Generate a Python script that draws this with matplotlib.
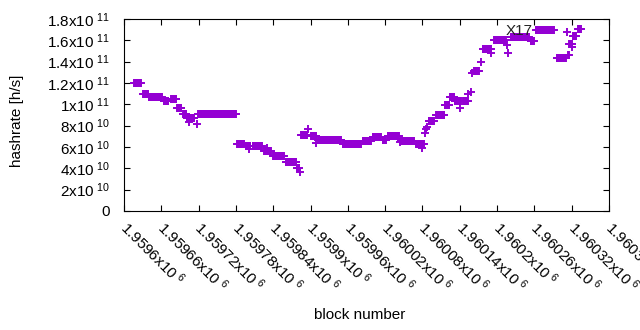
import numpy as np
import matplotlib
matplotlib.use("Agg")
import matplotlib.pyplot as plt
import matplotlib.transforms as mtransforms

plt.rcParams['font.family'] = ['Liberation Sans', 'DejaVu Sans']
plt.rcParams['mathtext.fontset'] = 'custom'
plt.rcParams['mathtext.rm'] = 'Liberation Sans'
plt.rcParams['mathtext.default'] = 'regular'

BASE_BLOCK = 1959600

# hashrate is constant over runs of blocks: first block, last block (offset from BASE_BLOCK), value in 1e10 h/s
run_first = [16, 31, 40, 64, 76, 86, 95, 101, 105, 117, 119, 182, 196, 201, 207, 225, 230, 240, 260,
             278, 283, 285, 296, 301, 309, 312, 352, 384, 400, 416, 424, 444, 445, 470, 479, 484,
             486, 487, 490, 502, 516, 524, 532, 540, 545, 553, 558, 560, 563, 574, 577, 591, 595,
             616, 617, 622, 654, 662, 696, 713, 714, 716, 721, 722, 730]
run_last = [27, 39, 61, 71, 84, 92, 100, 113, 105, 117, 180, 193, 203, 201, 222, 236, 230, 257, 277,
            282, 283, 294, 296, 309, 309, 349, 381, 397, 413, 421, 442, 444, 466, 482, 479, 484,
            486, 487, 498, 515, 523, 531, 542, 540, 553, 553, 558, 560, 571, 574, 590, 591, 614,
            616, 617, 651, 659, 691, 711, 713, 715, 721, 721, 727, 735]
run_value = [12.0, 11.0, 10.7, 10.3, 10.5, 9.7, 9.1, 8.7, 8.3, 8.2, 9.1, 6.3, 6.1, 5.8, 6.1, 5.6, 5.9,
             5.2, 4.6, 4.0, 3.7, 7.1, 7.7, 7.0, 6.4, 6.7, 6.3, 6.6, 6.9, 6.7, 7.05, 6.5, 6.6, 6.3,
             5.9, 7.3, 7.7, 7.9, 8.4, 9.0, 9.9, 10.7, 10.3, 9.7, 10.3, 11.0, 11.2, 12.9, 13.1, 14.0,
             15.2, 14.8, 16.0, 15.6, 14.8, 16.3, 15.9, 17.0, 14.3, 16.8, 14.6, 15.7, 15.4, 16.4, 17.1]

x_ticks = [1959600, 1959660, 1959720, 1959780, 1959840, 1959900, 1959960,
           1960020, 1960080, 1960140, 1960200, 1960260, 1960320, 1960380]
y_ticks = [0, 2e10, 4e10, 6e10, 8e10, 1e11, 1.2e11, 1.4e11, 1.6e11, 1.8e11]

blocks = []
hashrate = []
for a, b, v in zip(run_first, run_last, run_value):
    for off in range(a, b + 1):
        blocks.append(BASE_BLOCK + off)
        hashrate.append(v * 1e10)


def sci_label(v):
    if v == 0:
        return '0'
    exp = int(np.floor(np.log10(v) + 1e-9))
    mant = v / 10 ** exp
    return '%gx10$^{\\ %d}$' % (round(mant, 6), exp)


fig = plt.figure(figsize=(6.4, 3.3), dpi=100)
ax = fig.add_axes([124 / 640, 1 - 211 / 330, 485 / 640, 192 / 330])

ax.plot(blocks, hashrate, '+', color='#9400d3', ms=5.6, mew=1.4)
ax.text(1960235, 1.6875e11, 'X17', ha='center', va='center', fontsize=11, color='#222222')

ax.set_xlim(x_ticks[0], x_ticks[-1])
ax.set_ylim(0, 1.8e11)
ax.set_xticks(x_ticks)
ax.set_yticks(y_ticks)
ax.set_yticklabels([sci_label(v) for v in y_ticks], fontsize=11)
ax.set_xticklabels([sci_label(v) for v in x_ticks], fontsize=11, rotation=-45,
                   ha='left', va='top', rotation_mode='anchor')
ax.tick_params(direction='in', length=4, width=0.8, top=True, right=True)
ax.tick_params(axis='y', pad=10)
ax.tick_params(axis='x', pad=5)
shift = mtransforms.ScaledTranslation(6 / 100, 0, fig.dpi_scale_trans)
for lbl in ax.get_xticklabels():
    lbl.set_transform(lbl.get_transform() + shift)
for s in ax.spines.values():
    s.set_linewidth(0.8)

fig.text(17 / 640, 1 - 121 / 330, 'hashrate [h/s]', rotation=90, ha='center', va='center', fontsize=11)
fig.text(360 / 640, 1 - 315 / 330, 'block number', ha='center', va='center', fontsize=11)

fig.savefig('out.png', dpi=100)
